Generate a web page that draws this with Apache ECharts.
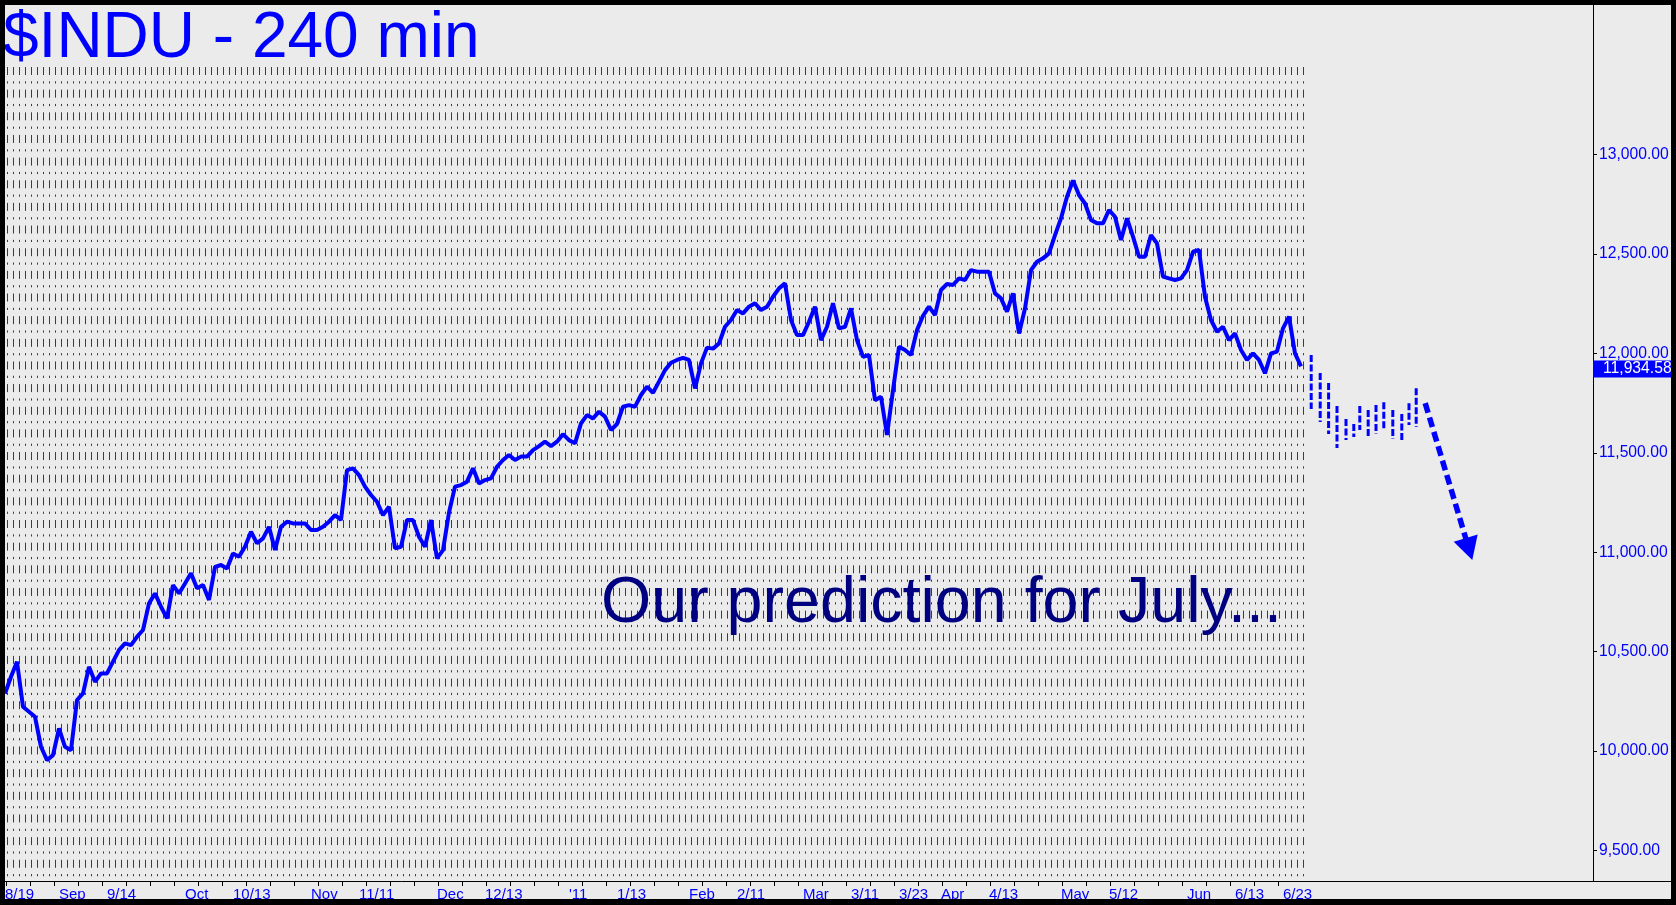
<!DOCTYPE html>
<html><head><meta charset="utf-8">
<script src="https://cdn.jsdelivr.net/npm/echarts@6/dist/echarts.min.js"></script>
<style>html,body{margin:0;padding:0;background:#ebebeb;overflow:hidden}#c{width:1676px;height:905px}</style>
</head><body><div id="c"></div>
<script>
// ---- data (day index from 8/19/2010) ----
const histValues = [
10290,10374,10450,10223,10198,10173,10022,9955,9980,10114,
10022,10005,10257,10290,10424,10349,10391,10391,10450,10508,
10542,10533,10575,10609,10743,10793,10726,10668,10835,10793,
10843,10894,10819,10835,10760,10927,10936,10919,10994,10978,
11028,11103,11045,11070,11128,11011,11128,11154,11145,11145,
11145,11112,11112,11128,11154,11187,11162,11413,11422,11388,
11330,11288,11254,11187,11229,11020,11028,11162,11162,11078,
11028,11162,10969,11011,11200,11330,11338,11355,11422,11346,
11363,11372,11430,11464,11489,11464,11481,11481,11514,11534,
11556,11534,11556,11594,11564,11548,11648,11690,11673,11707,
11682,11615,11645,11732,11740,11732,11791,11833,11802,11858,
11916,11953,11967,11978,11967,11824,11950,12029,12024,12050,
12134,12168,12218,12201,12235,12252,12218,12235,12285,12327,
12352,12168,12092,12092,12159,12235,12067,12134,12252,12126,
12134,12226,12067,11983,11992,11765,11782,11590,11815,12034,
12017,11992,12117,12189,12235,12193,12319,12349,12344,12377,
12369,12419,12411,12411,12411,12302,12277,12210,12302,12100,
12226,12419,12461,12478,12503,12595,12679,12788,12870,12796,
12754,12671,12654,12654,12721,12687,12570,12679,12587,12486,
12486,12595,12553,12386,12377,12369,12377,12419,12511,12520,
12285,12168,12109,12134,12067,12101,12017,11967,12000,11967,
11900,12000,12009,12126,12185,12000,11934.58];
const lastValue = 11934.58;
const xLabelPos  = [0,9,17,30,38,51,59,72,80,94,102,114,122,133,141,149,156,164,176,184,197,205,213];
const xLabelText = ['8/19','Sep','9/14','Oct','10/13','Nov','11/11','Dec','12/13',"'11",'1/13','Feb','2/11','Mar','3/11','3/23','Apr','4/13','May','5/12','Jun','6/13','6/23'];
const yTicks = [9500,10000,10500,11000,11500,12000,12500,13000];
// projected bars (day index, high, low)
const predX    = [217.7,219.2,220.6,222.0,223.5,224.8,225.8,227.2,228.5,229.8,231.3,232.8,234.0,235.2];
const predHigh = [11992,11901,11851,11735,11670,11645,11735,11715,11740,11755,11715,11695,11750,11825];
const predLow  = [11720,11655,11595,11524,11564,11580,11615,11574,11595,11620,11570,11560,11640,11630];
// arrow start / end
const arrowX = [236.7, 244.0];
const arrowY = [11750, 11016];
const gridDays = 216;

const FONT = "'Liberation Sans', Arial, sans-serif";
const BLUE = '#0000ff';
function fmt(v){ return v.toLocaleString('en-US',{minimumFractionDigits:2,maximumFractionDigits:2}); }
const xTickPos = [];
for (let t = 0.17; t <= gridDays; t += 4) xTickPos.push(t);

const chart = echarts.init(document.getElementById('c'), null, {renderer:'canvas'});
chart.setOption({
  animation:false,
  backgroundColor:'#ebebeb',
  grid:[
    {left:5, top:5, right:83, bottom:24},
    {left:7, top:67, width:gridDays*6, height:814}
  ],
  xAxis:[
    {type:'value', gridIndex:0, min:0, max:264.667,
     axisLine:{show:true, onZero:false, lineStyle:{color:'#000', width:1}},
     axisTick:{show:true, length:5, customValues:xTickPos, lineStyle:{color:'#000'}},
     axisLabel:{show:true, customValues:xLabelPos, margin:6, align:'left', color:BLUE, fontSize:15, fontFamily:FONT,
       formatter:function(v){ const k = xLabelPos.indexOf(v); return k>=0 ? xLabelText[k] : ''; }},
     splitLine:{show:false}},
    {type:'value', gridIndex:1, min:0, max:gridDays, interval:1,
     axisLine:{show:false}, axisTick:{show:false}, axisLabel:{show:false},
     splitLine:{show:true, lineStyle:{color:'#3c3c3c', width:1, type:[8,6.3,2.2,6.15]}}}
  ],
  yAxis:[
    {type:'value', gridIndex:0, position:'right', min:9347, max:13752,
     axisLine:{show:true, onZero:false, lineStyle:{color:'#000', width:1}},
     axisTick:{show:true, length:4, customValues:yTicks, lineStyle:{color:'#000'}},
     axisLabel:{show:true, customValues:yTicks, margin:6, color:BLUE, fontSize:15.7, fontFamily:FONT, formatter:fmt},
     splitLine:{show:false}},
    {type:'value', gridIndex:1, show:false, min:0, max:1, splitLine:{show:false}}
  ],
  series:[
    {type:'line', xAxisIndex:0, yAxisIndex:0, showSymbol:false, silent:true,
     data: histValues.map((v,i)=>[i,v]),
     lineStyle:{color:BLUE, width:4}, itemStyle:{color:BLUE},
     markLine:{silent:true, animation:false, symbol:'none',
       lineStyle:{color:BLUE, width:5.5, type:[10,5]},
       label:{show:false},
       data:[
         [{coord:[arrowX[0],arrowY[0]], symbol:'none'},
          {coord:[arrowX[1],arrowY[1]], symbol:'triangle', symbolSize:[25,23]}]
       ]}
    },
    {type:'custom', xAxisIndex:0, yAxisIndex:0, silent:true,
     data: predX.map((x,i)=>[x,predHigh[i],predLow[i]]),
     encode:{x:0, y:[1,2]},
     renderItem:function(params, api){
       const p1 = api.coord([api.value(0), api.value(1)]);
       const p2 = api.coord([api.value(0), api.value(2)]);
       return {type:'line', shape:{x1:p1[0], y1:p1[1], x2:p2[0], y2:p2[1]},
               style:{stroke:BLUE, lineWidth:3, lineDash:[7,2.5]}};
     }}
  ],
  graphic:[
    {id:'title', type:'text', left:3, top:7, z:50, style:{text:'$INDU - 240 min', fill:BLUE, fontSize:64, fontFamily:FONT}},
    {id:'pred', type:'text', left:601, top:572, z:50, style:{text:'Our prediction for July...', fill:'#000080', fontSize:64.6, fontFamily:FONT}},
    {id:'xext', type:'line', z:50, shape:{x1:1593, y1:881.5, x2:1676, y2:881.5}, style:{stroke:'#000', lineWidth:1}},
    {id:'b1', type:'rect', z:100, shape:{x:0, y:0, width:1676, height:5}, style:{fill:'#000'}},
    {id:'b2', type:'rect', z:100, shape:{x:0, y:0, width:5, height:905}, style:{fill:'#000'}},
    {id:'b3', type:'rect', z:100, shape:{x:1671, y:0, width:5, height:905}, style:{fill:'#000'}},
    {id:'b4', type:'rect', z:100, shape:{x:0, y:899, width:1676, height:6}, style:{fill:'#000'}}
  ]
});
// current price flag on the value axis, positioned through the axis scale
const py = chart.convertToPixel({yAxisIndex:0}, lastValue) + 3;
const ax = chart.convertToPixel({xAxisIndex:0}, 264.667);
chart.setOption({graphic:[
  {id:'priceBox', type:'rect', z:60, shape:{x:ax, y:Math.round(py)-8.5, width:80, height:17}, style:{fill:BLUE}},
  {id:'priceTxt', type:'text', z:61, x:ax+10, y:Math.round(py), style:{text:fmt(lastValue), fill:'#fff', fontSize:15.7, fontFamily:FONT, verticalAlign:'middle', align:'left'}}
]});
</script>
</body></html>
